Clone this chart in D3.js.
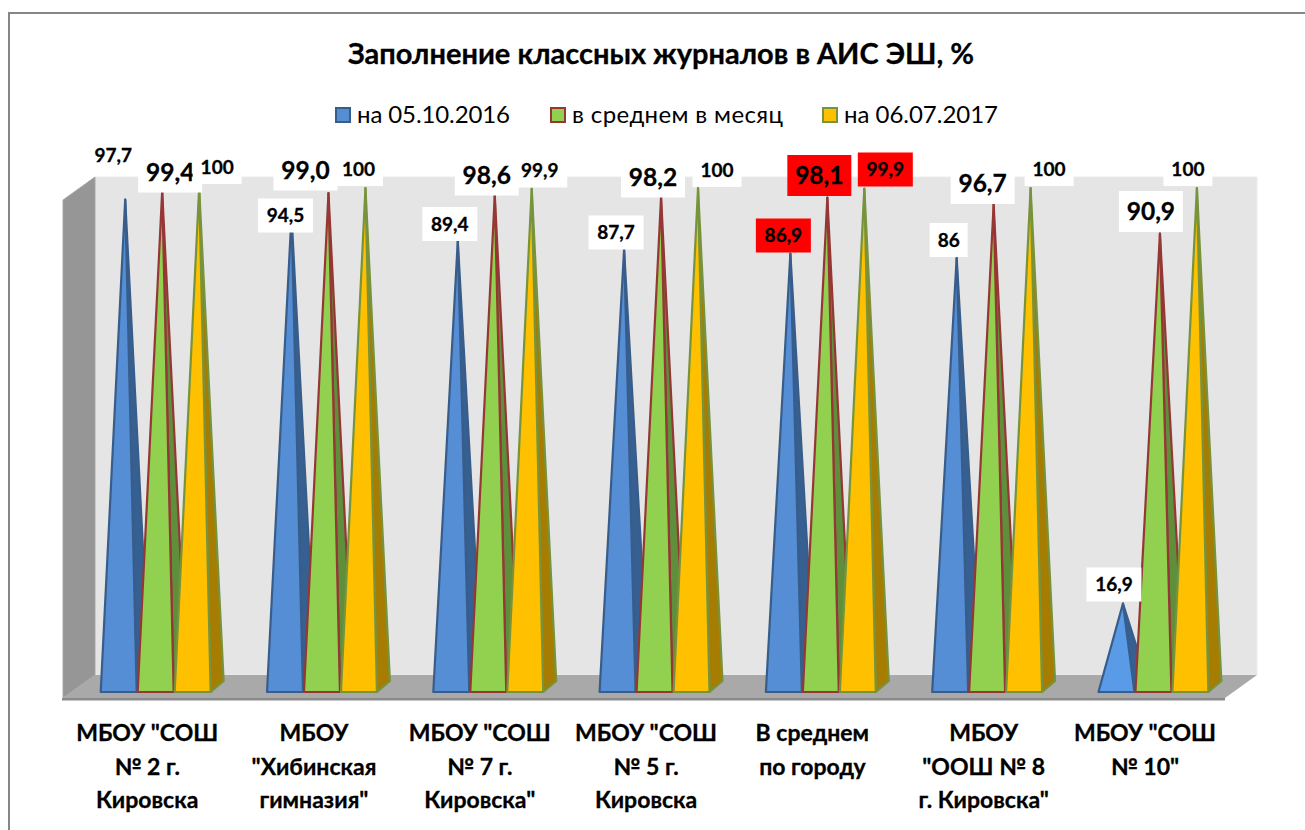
<!DOCTYPE html>
<html><head><meta charset="utf-8">
<script src="https://cdn.jsdelivr.net/npm/d3@7/dist/d3.min.js"></script>
<style>html,body{margin:0;padding:0;background:#fff;overflow:hidden}svg{display:block}text{font-family:Lato,"Open Sans",sans-serif}</style>
</head><body><svg id="c" width="1305" height="830"></svg>
<script>
const titleText = "Заполнение классных журналов в АИС ЭШ, %";
const categories = [
  ['МБОУ "СОШ','№ 2 г.','Кировска'],
  ['МБОУ','"Хибинская','гимназия"'],
  ['МБОУ "СОШ','№ 7 г.','Кировска"'],
  ['МБОУ "СОШ','№ 5 г.','Кировска'],
  ['В среднем','по городу'],
  ['МБОУ','"ООШ № 8','г. Кировска"'],
  ['МБОУ "СОШ','№ 10"']
];
const seriesNames = ["на 05.10.2016","в среднем в месяц","на 06.07.2017"];
const oct2016 = [97.7,94.5,89.4,87.7,86.9,86,16.9];
const avgMonth = [99.4,99.0,98.6,98.2,98.1,96.7,90.9];
const jul2017 = [100,100,99.9,100,99.9,100,100];
const valueLabels = [
  ["97,7","94,5","89,4","87,7","86,9","86","16,9"],
  ["99,4","99,0","98,6","98,2","98,1","96,7","90,9"],
  ["100","100","99,9","100","99,9","100","100"]
];
const values = [oct2016,avgMonth,jul2017];

// layout: label offsets from each pyramid's apex
const labelDx = [[-12,-6,-8,-8,-7,-8,-9],[8,-23,-8,-8,-8,-11,-9],[18,-7,8,19,21,18.5,-9]];
const labelDy = [[-44,0,-17,-17,-18,-18,-19],[-19,-23,-20,-20,-22,-21,-22],[-21,-19,-18,-18,-19,-19,-19]];
const categoryNudge = [-8.5,-8,-8.5,-8.5,-8.5,-3.5,-8.5];
const legendX = [335,550,822];
const legendW = [153,211,154];
const fills = ["#558ed5","#92d050","#ffc000"];
const sides = ["#376092","#5f8f3a","#a67d00"];
const strokes = ["#385d8a","#953735","#77933c"];
const svg = d3.select("#c");
const depth = {x:13,y:-11}, baseY = 692;

const x0 = d3.scaleBand().domain(d3.range(categories.length)).range([72.5,1236.6]).paddingInner(0.333).paddingOuter(0.1667);
const x1 = d3.scaleBand().domain(d3.range(3)).range([0,x0.bandwidth()]);
const y = d3.scaleLinear().domain([0,100]).range([688,188]);

// frame
svg.append("path").attr("d","M9,830V13H1305").attr("fill","none").attr("stroke","#868686").attr("stroke-width",2);

// walls
svg.append("polygon").attr("points","95,177 1257,177 1257,675 95,675").attr("fill","#e5e5e5").attr("stroke","#ececec");
svg.append("polygon").attr("points","63,200 95,177 95,675 63,698").attr("fill","#969696").attr("stroke","#a6a6a6");
svg.append("polygon").attr("points","63,698 95,675 1257,675 1225,698").attr("fill","#a9a9a9");
svg.append("rect").attr("x",62).attr("y",698).attr("width",1163).attr("height",2.5).attr("fill","#8a8a8a");

// pyramids
categories.forEach((_,i)=>{
  values.forEach((vals,s)=>{
    const L = x0(i)+x1(s)+0.5, R = L+x1.bandwidth()-1;
    const ax = (L+R)/2+depth.x/2, ay = y(vals[i]);
    const g = svg.append("g").attr("stroke",strokes[s]).attr("stroke-width",2.2).attr("stroke-linejoin","round");
    g.append("polygon").attr("points",[[R,baseY],[R+depth.x,baseY+depth.y],[ax,ay]].join(" ")).attr("fill",sides[s]);
    const pale = (s===0 && vals[i]<50);
    g.append("polygon").attr("points",[[L,baseY],[R,baseY],[ax,ay]].join(" ")).attr("fill",pale?"#5a9be8":fills[s]);
  });
});

// value labels
values.forEach((vals,s)=>{
  vals.forEach((v,i)=>{
    const L = x0(i)+x1(s), ax = L+x1.bandwidth()/2+depth.x/2, ay = y(v);
    const cx = ax+labelDx[s][i], cy = ay+labelDy[s][i];
    const big = s===1, red = i===4;
    const t = valueLabels[s][i];
    const w = big?64:(t.length<=2?38:(t==="100"?49:55)), h = big?41:34;
    svg.append("rect").attr("x",cx-w/2).attr("y",cy-h/2).attr("width",w).attr("height",h).attr("fill",red?"#ff0000":"#fff");
    svg.append("text").attr("x",cx).attr("y",cy-1).attr("text-anchor","middle").attr("dominant-baseline","central")
      .attr("font-size",big?24.5:19).attr("font-weight",700).attr("fill","#000").attr("stroke","#000").attr("stroke-width",0.3).text(t);
  });
});

// category labels
categories.forEach((lines,i)=>{
  const cx = x0(i)+x0.bandwidth()/2+categoryNudge[i];
  lines.forEach((t,k)=>{
    svg.append("text").attr("x",cx).attr("y",741+k*33.5).attr("text-anchor","middle")
      .attr("font-size",23).attr("font-weight",700).attr("fill","#000").attr("stroke","#000").attr("stroke-width",0.3).text(t);
  });
});

// title
svg.append("text").attr("x",661).attr("y",64).attr("text-anchor","middle").attr("font-size",29).attr("font-weight",700).attr("fill","#000").attr("stroke","#000").attr("stroke-width",0.3).text(titleText);

// legend
seriesNames.forEach((n,s)=>{
  svg.append("rect").attr("x",legendX[s]+1).attr("y",108).attr("width",14).attr("height",14).attr("fill",fills[s]).attr("stroke",strokes[s]).attr("stroke-width",2);
  svg.append("text").attr("x",legendX[s]+22).attr("y",123).attr("font-size",24).attr("fill","#000").attr("textLength",legendW[s]).attr("lengthAdjust","spacing").text(n);
});
</script></body></html>
